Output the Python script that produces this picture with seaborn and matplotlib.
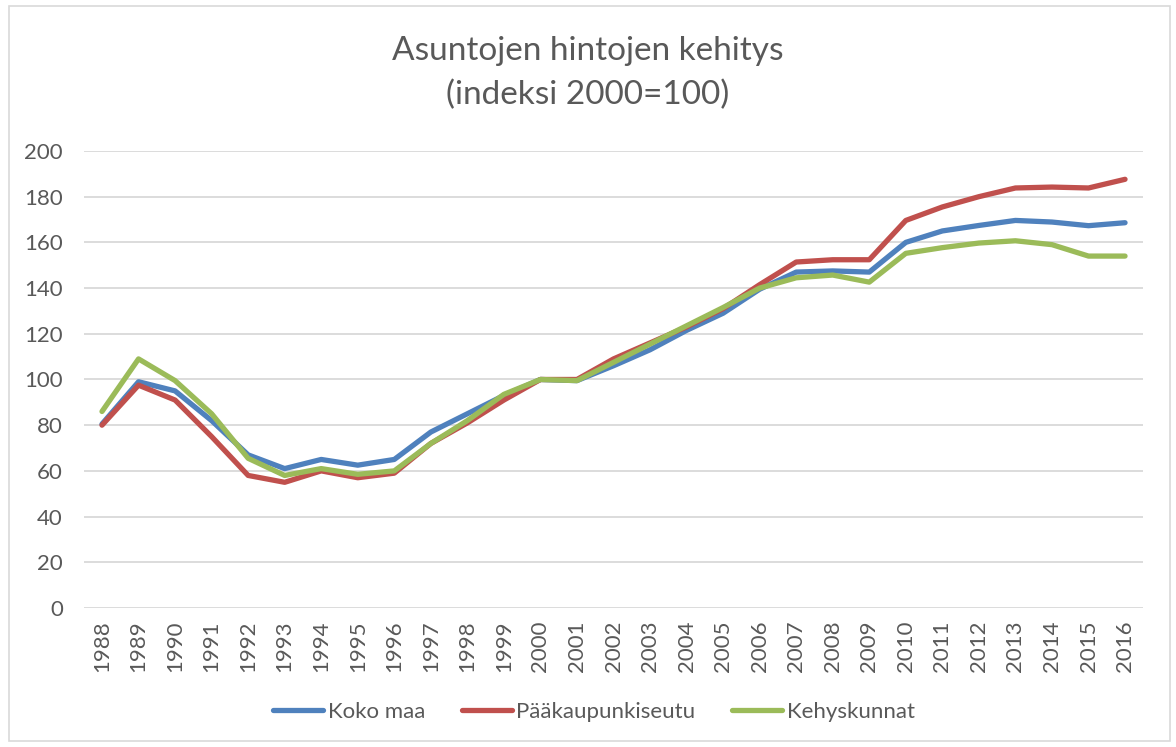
import matplotlib
matplotlib.use("Agg")
import matplotlib.pyplot as plt
import seaborn as sns
import pandas as pd
from matplotlib.patches import Rectangle

years = list(range(1988, 2017))
koko_maa = [80.5, 99, 95, 82, 67, 61, 65, 62.5, 65, 77, 85, 93, 100, 99.5,
            106, 113, 121.5, 129, 139.5, 147, 147.5, 147, 160, 165, 167.4,
            169.6, 168.9, 167.3, 168.6]
paakaupunkiseutu = [80, 97.5, 91, 75, 58, 55, 60, 57, 59, 72, 81, 91, 100, 100,
                    109, 116, 123, 131, 141.5, 151.4, 152.4, 152.4, 169.6, 175.5,
                    180, 183.8, 184.2, 183.8, 187.6]
kehyskunnat = [86, 109, 99.5, 85, 65.5, 58, 61, 58.5, 60, 72, 82, 93.5, 100, 99.5,
               107.5, 115.5, 123.5, 131.5, 140, 144.5, 145.7, 142.6, 155.2, 157.7,
               159.7, 160.7, 159, 154, 154]
series_names = ["Koko maa", "Pääkaupunkiseutu", "Kehyskunnat"]
colors = ["#4F81BD", "#C0504D", "#9BBB59"]
title = "Asuntojen hintojen kehitys\n(indeksi 2000=100)"

df = pd.DataFrame({
    "Vuosi": years * 3,
    "Indeksi": koko_maa + paakaupunkiseutu + kehyskunnat,
    "Sarja": [series_names[0]] * len(years) + [series_names[1]] * len(years)
             + [series_names[2]] * len(years),
})

sns.set_theme(style="white")
plt.rcParams["font.family"] = ["Lato", "DejaVu Sans"]
txt = "#595959"

fig = plt.figure(figsize=(11.76, 7.47), dpi=100)
ax = fig.add_axes([0.0712, 0.1861, 0.9010, 0.6118])

sns.lineplot(data=df, x="Vuosi", y="Indeksi", hue="Sarja", hue_order=series_names,
             palette=colors, linewidth=3.8, ax=ax, legend=True,
             solid_capstyle="round", solid_joinstyle="round")

ax.set_xlim(1987.5, 2016.5)
ax.set_ylim(0, 200)
ax.set_yticks(range(0, 201, 20))
ax.set_xticks(years)
ax.set_xticklabels([str(y) for y in years], rotation=90)
ax.grid(axis="y", color="#D9D9D9", linewidth=1.3)
ax.set_axisbelow(True)
for s in ["top", "right", "left", "bottom"]:
    ax.spines[s].set_visible(False)
ax.tick_params(axis="y", length=0, pad=15, labelsize=16, labelcolor=txt)
ax.tick_params(axis="x", length=0, pad=9, labelsize=16, labelcolor=txt)
ax.set_xlabel("")
ax.set_ylabel("")

handles, labels = ax.get_legend_handles_labels()
ax.get_legend().remove()
leg = fig.legend(handles, labels, loc="center", bbox_to_anchor=(0.505, 0.047),
                 ncol=3, frameon=False, fontsize=16, handlelength=2.25,
                 handletextpad=0.22, columnspacing=1.65)
for t in leg.get_texts():
    t.set_color(txt)
for h in leg.legend_handles:
    h.set_linewidth(3.8)

fig.text(0.5, 0.902, title, ha="center", va="center", fontsize=24,
         color=txt, fontweight="normal", linespacing=1.55)

fig.patches.append(Rectangle((9 / 1176, 1 - 741 / 747), 1161 / 1176, 735 / 747,
                             transform=fig.transFigure, fill=False,
                             edgecolor="#D9D9D9", linewidth=1.2))

fig.savefig("out.png", dpi=100)
